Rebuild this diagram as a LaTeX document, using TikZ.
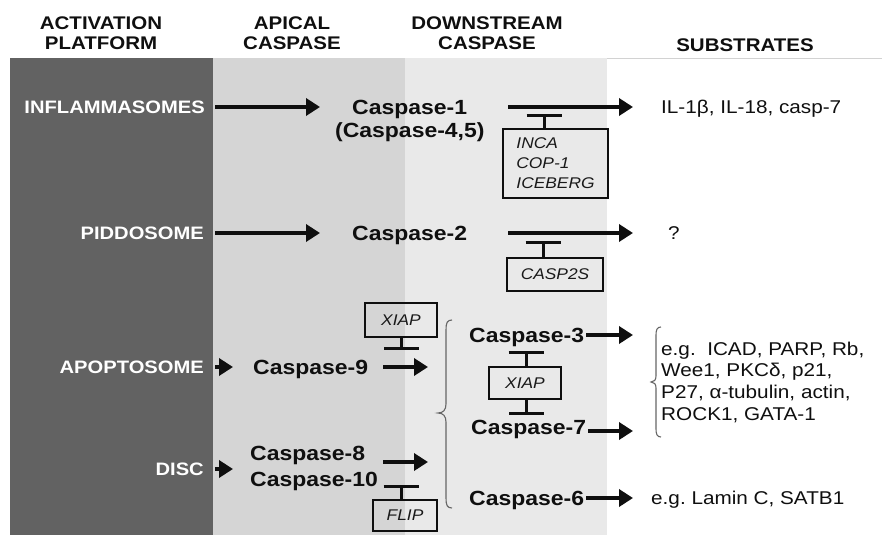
\documentclass[tikz,border=0pt]{standalone}
\usepackage{fontspec}
\setmainfont{Liberation Sans}[FakeStretch=1.12]
\usetikzlibrary{arrows.meta}

\definecolor{platform}{RGB}{98,98,98}
\definecolor{apical}{RGB}{213,213,213}
\definecolor{downstream}{RGB}{233,233,233}
\definecolor{ink}{RGB}{15,15,15}

\begin{document}
\begin{tikzpicture}[x=1pt,y=-1pt,
  hdr/.style={font=\bfseries\fontsize{18.3}{20}\selectfont, align=center, inner sep=0pt, anchor=north, text=ink},
  plat/.style={font=\bfseries\fontsize{18}{20}\selectfont, text=white, inner sep=0pt, text height=12.9pt, text depth=0pt, anchor=east},
  casp/.style={font=\bfseries\fontsize{20.5}{24}\selectfont, inner sep=0pt, text height=14.7pt, text depth=0pt, anchor=west, text=ink},
  subst/.style={font=\fontsize{18.5}{21.7}\selectfont, inner sep=0pt, text height=13.2pt, text depth=0pt, anchor=west, text=ink},
  substlist/.style={font=\fontsize{18.5}{21.7}\selectfont, inner sep=0pt, align=left, anchor=north west, text=ink},
  inhbox/.style={draw=ink, line width=2pt, font=\itshape\fontsize{15.5}{20}\selectfont, inner sep=0pt, align=left, text=black!90},
  arr/.style={draw=ink, line width=4.2pt, -{Triangle[length=14pt,width=17pt]}},
  inh/.style={draw=ink, line width=3pt, -{Bar[width=35pt,line width=3.2pt]}},
  curly/.style={draw=black!60, line width=1.1pt},
]
\useasboundingbox (0,0) rectangle (882,535);

% column bands
\fill[platform] (10,58) rectangle (213,535);
\fill[apical] (213,58) rectangle (405,535);
\fill[downstream] (405,58) rectangle (607,535);
\draw[gray!35, line width=0.6pt] (607,58.5) -- (882,58.5);

% column headings
\node[hdr] (hplat) at (101,16.5) {ACTIVATION\\PLATFORM};
\node[hdr] (hapic) at (292,16.5) {APICAL\\CASPASE};
\node[hdr] (hdown) at (487,16.5) {DOWNSTREAM\\CASPASE};
\node[hdr] (hsubs) at (745,38.5) {SUBSTRATES};

% activation platforms
\node[plat] (infl) at (205,107) {INFLAMMASOMES};
\node[plat] (piddo) at (204,233) {PIDDOSOME};
\node[plat] (apop) at (204,367) {APOPTOSOME};
\node[plat] (disc) at (204,469) {DISC};

% caspases
\node[casp] (casp1) at (352,107) {Caspase-1};
\node[casp] (casp45) at (335,130) {(Caspase-4,5)};
\node[casp] (casp2) at (352,233) {Caspase-2};
\node[casp] (casp9) at (253,367) {Caspase-9};
\node[casp] (casp8) at (250,453) {Caspase-8};
\node[casp] (casp10) at (250,479) {Caspase-10};
\node[casp] (casp3) at (469,335) {Caspase-3};
\node[casp] (casp7) at (471,427) {Caspase-7};
\node[casp] (casp6) at (469,498) {Caspase-6};

% substrates
\node[subst] (il1) at (661,107) {IL-1β, IL-18, casp-7};
\node[subst] (unk) at (668,233) {?};
\node[substlist] (targets) at (661,341.5) {e.g.\ \ ICAD, PARP, Rb,\\Wee1, PKCδ, p21,\\P27, α-tubulin, actin,\\ROCK1, GATA-1};
\node[subst] (lamin) at (651,498) {e.g.\ Lamin C, SATB1};

% inhibitors
\node[inhbox, minimum width=105pt, minimum height=69pt] (incabox) at (555.5,163.5) {INCA\\COP-1\\ICEBERG};
\node[inhbox, minimum width=96pt, minimum height=33pt] (c2sbox) at (555,274.5) {CASP2S};
\node[inhbox, minimum width=72pt, minimum height=34pt] (xiap1) at (401,320) {XIAP};
\node[inhbox, minimum width=72pt, minimum height=32pt] (xiap2) at (525,383) {XIAP};
\node[inhbox, minimum width=64pt, minimum height=31pt] (flip) at (405,515.5) {FLIP};

% activation arrows
\draw[arr, shorten <=10pt, shorten >=32pt] (infl.east) -- (casp1.west);
\draw[arr, shorten <=41pt, shorten >=28pt] (casp1.east) -- (il1.west);
\draw[arr, shorten <=11pt, shorten >=32pt] (piddo.east) -- (casp2.west);
\draw[arr, shorten <=41pt, shorten >=35pt] (casp2.east) -- (unk.west);
\draw[arr, shorten <=11pt, shorten >=20pt] (apop.east) -- (casp9.west);
\coordinate (c9tip) at (428,367);
\draw[arr, shorten <=15pt] (casp9.east) -- (c9tip);
\coordinate (disctip) at (233,469);
\draw[arr, shorten <=11pt] (disc.east) -- (disctip);
\coordinate (c8tip) at (428,462);
\draw[arr, shorten <=18pt] (casp8.east |- c8tip) -- (c8tip);
\coordinate (c3tip) at (633,335);
\draw[arr, shorten <=2pt] (casp3.east) -- (c3tip);
\coordinate (c7tip) at (633,431);
\draw[arr, shorten <=2pt] (casp7.east |- c7tip) -- (c7tip);
\draw[arr, shorten <=2pt, shorten >=18pt] (casp6.east) -- (lamin.west);

% inhibition bars
\coordinate (incabar) at (544,114);
\draw[inh] (incabox.north -| incabar) -- (incabar);
\coordinate (c2sbar) at (543,241);
\draw[inh] (c2sbox.north -| c2sbar) -- (c2sbar);
\coordinate (x1bar) at (401,350);
\draw[inh] (xiap1.south -| x1bar) -- (x1bar);
\coordinate (x2top) at (526,351);
\draw[inh] (xiap2.north -| x2top) -- (x2top);
\coordinate (x2bot) at (526,415);
\draw[inh] (xiap2.south -| x2bot) -- (x2bot);
\coordinate (flipbar) at (401,485);
\draw[inh] (flip.north -| flipbar) -- (flipbar);

% braces
\draw[curly] (452,320) .. controls (447,320) and (446,323) .. (446,330) -- (446,404)
  .. controls (446,410) and (443,413) .. (438,413)
  .. controls (443,413) and (446,416) .. (446,422) -- (446,498)
  .. controls (446,505) and (447,508) .. (452,508);
\draw[curly] (661,327) .. controls (657,327) and (656,330) .. (656,335) -- (656,376)
  .. controls (656,380) and (654,382) .. (651,382)
  .. controls (654,382) and (656,384) .. (656,388) -- (656,429)
  .. controls (656,434) and (657,437) .. (661,437);
\end{tikzpicture}
\end{document}
